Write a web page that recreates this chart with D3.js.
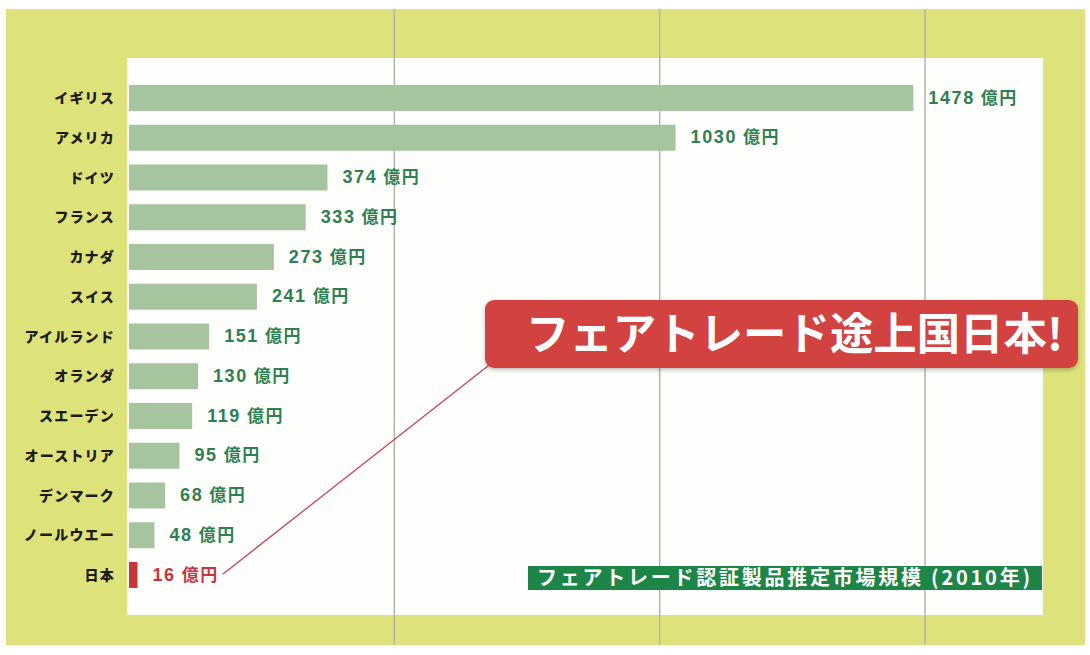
<!DOCTYPE html>
<html>
<head>
<meta charset="utf-8">
<script src="https://cdn.jsdelivr.net/npm/d3@7"></script>
<style>
  html, body { margin: 0; padding: 0; background: #fff; }
  svg { display: block; }
</style>
</head>
<body>
<svg id="chart" width="1090" height="655"></svg>
<script>
// fair trade market size 2010 (億円)
const countries = ["イギリス","アメリカ","ドイツ","フランス","カナダ","スイス","アイルランド",
  "オランダ","スエーデン","オーストリア","デンマーク","ノールウエー","日本"];
const values = [1478, 1030, 374, 333, 273, 241, 151, 130, 119, 95, 68, 48, 16];
const gridTicks = [500, 1000, 1500];
const unit = "億円";
const highlight = "日本";
const calloutText = "フェアトレード途上国日本!";
const captionText = "フェアトレード認証製品推定市場規模 (2010年)";

const data = countries.map((c, i) => ({ country: c, value: values[i] }));

const svg = d3.select("#chart");
const jpFont = "'Noto Sans CJK JP', 'Noto Sans', sans-serif";
const numFont = "'Liberation Sans', Arial, 'Noto Sans CJK JP', sans-serif";

// background
svg.append("rect").attr("x", 6).attr("y", 9).attr("width", 1079).attr("height", 636).attr("fill", "#dde27b");
svg.append("rect").attr("x", 127).attr("y", 58).attr("width", 916).attr("height", 557).attr("fill", "#fefefc");

const x = d3.scaleLinear().domain([0, 1500]).range([129, 925]);
const y = d3.scaleBand().domain(countries).range([78.1, 594.85]).paddingInner(0.346).paddingOuter(0.173);

// grid lines
svg.append("g").selectAll("line").data(gridTicks).enter().append("line")
  .attr("x1", d => x(d)).attr("x2", d => x(d))
  .attr("y1", 9).attr("y2", 645)
  .attr("stroke", "#b4b4ac").attr("stroke-width", 1.5);

// bars
svg.append("g").selectAll("rect").data(data).enter().append("rect")
  .attr("x", x(0)).attr("y", d => y(d.country))
  .attr("width", d => x(d.value) - x(0)).attr("height", y.bandwidth())
  .attr("fill", d => d.country === highlight ? "#c9363a" : "#a6c49d");

// category labels
svg.append("g").selectAll("text").data(data).enter().append("text")
  .attr("x", 115).attr("y", d => y(d.country) + y.bandwidth() / 2)
  .attr("dy", "0.36em").attr("text-anchor", "end")
  .attr("font-family", jpFont).attr("font-weight", 900).attr("font-size", 14)
  .attr("letter-spacing", 1.2).attr("fill", "#1c1c1c")
  .text(d => d.country);

// value labels
const vl = svg.append("g").selectAll("text").data(data).enter().append("text")
  .attr("x", d => x(d.value) + 15).attr("y", d => y(d.country) + y.bandwidth() / 2)
  .attr("dy", "0.36em")
  .attr("fill", d => d.country === highlight ? "#c9343c" : "#2f8050")
  .attr("font-weight", 700);
vl.append("tspan").attr("font-family", numFont).attr("font-size", 18)
  .attr("letter-spacing", 1.6).text(d => d.value);
vl.append("tspan").attr("dx", 6).attr("font-family", jpFont).attr("font-size", 17)
  .attr("letter-spacing", 1.5).text(unit);

// pointer line from Japan label to callout
const jpLabel = vl.filter(d => d.country === highlight).node().getBBox();
const box = { x: 485, y: 300, w: 593, h: 68 };
svg.append("line")
  .attr("x1", jpLabel.x + jpLabel.width + 4).attr("y1", jpLabel.y + jpLabel.height / 2 + 1)
  .attr("x2", box.x + 8).attr("y2", box.y + box.h - 6)
  .attr("stroke", "#c8415a").attr("stroke-width", 1.3);

// callout
const defs = svg.append("defs");
const f = defs.append("filter").attr("id", "sh").attr("x", "-5%").attr("y", "-20%").attr("width", "110%").attr("height", "150%");
f.append("feDropShadow").attr("dx", 0).attr("dy", 2).attr("stdDeviation", 2).attr("flood-color", "#000").attr("flood-opacity", 0.25);
svg.append("rect").attr("x", box.x).attr("y", box.y).attr("width", box.w).attr("height", box.h)
  .attr("rx", 9).attr("fill", "#d1423f").attr("filter", "url(#sh)");
svg.append("text").attr("x", 526).attr("y", box.y + box.h / 2).attr("dy", "0.36em")
  .attr("font-family", jpFont).attr("font-weight", 700).attr("font-size", 44)
  .attr("fill", "#fff").attr("textLength", 537).attr("lengthAdjust", "spacingAndGlyphs")
  .text(calloutText);

// caption box
svg.append("rect").attr("x", 528).attr("y", 566).attr("width", 514).attr("height", 24).attr("fill", "#1d8548");
svg.append("text").attr("x", 537).attr("y", 578).attr("dy", "0.36em")
  .attr("font-family", jpFont).attr("font-weight", 700).attr("font-size", 20)
  .attr("fill", "#fff").attr("textLength", 493).attr("lengthAdjust", "spacing")
  .text(captionText);
</script>
</body>
</html>
